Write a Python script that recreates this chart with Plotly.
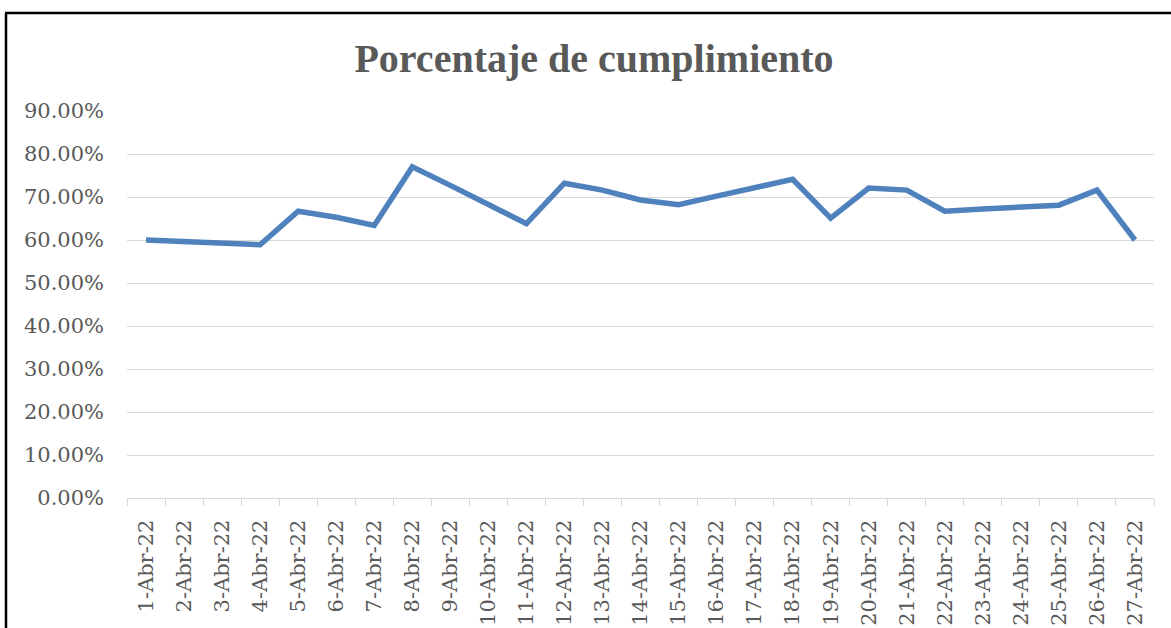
import plotly.graph_objects as go

dias = [f"{d}-Abr-22" for d in range(1, 28)]
cumplimiento = [0.600, 0.597, 0.593, 0.589, 0.667, 0.653, 0.634, 0.770, 0.727,
                0.684, 0.638, 0.732, 0.716, 0.693, 0.682, 0.702, 0.721, 0.741,
                0.651, 0.721, 0.716, 0.667, 0.672, 0.676, 0.681, 0.716, 0.600]
y_ticks = [0, 0.1, 0.2, 0.3, 0.4, 0.5, 0.6, 0.7, 0.8, 0.9]
titulo = "Porcentaje de cumplimiento"

TXT = "#595959"
fig = go.Figure()
fig.add_trace(go.Scatter(x=dias, y=cumplimiento, mode="lines",
                         line=dict(color="#4F81BD", width=5.5),
                         hoverinfo="x+y"))

L, R, T, B = 127, 17, 111, 130
W, H = 1171, 628
pw, ph = W - L - R, H - T - B

def px(x):
    return (x - L) / pw

def py(y):
    return (H - B - y) / ph

fig.update_layout(
    width=W, height=H,
    margin=dict(l=L, r=R, t=T, b=B, autoexpand=False),
    paper_bgcolor="white", plot_bgcolor="white",
    showlegend=False,
    title=dict(text=f"<b>{titulo}</b>", x=594 / W, xanchor="center",
               y=1 - 58 / H, yanchor="middle", xref="container", yref="container",
               font=dict(family="Liberation Serif", size=40, color=TXT)),
    xaxis=dict(type="category", showgrid=False, showline=True, linecolor="#D9D9D9",
               linewidth=1.3, ticks="outside", tickson="boundaries", ticklen=7,
               tickcolor="#D9D9D9", tickwidth=1.3, tickangle=-90,
               tickfont=dict(family="DejaVu Serif", size=21, color=TXT),
               range=[-0.5, len(dias) - 0.5], ticklabelstandoff=12),
    yaxis=dict(range=[0, 0.9], tickvals=y_ticks, tickformat=".2%",
               showgrid=True, gridcolor="#D9D9D9", gridwidth=1.3, zeroline=False,
               showline=False, ticks="",
               tickfont=dict(family="DejaVu Serif", size=21, color=TXT),
               ticklabelstandoff=22),
    shapes=[
        dict(type="line", xref="paper", yref="paper", x0=px(6), x1=px(6),
             y0=py(13), y1=py(700), line=dict(color="black", width=2.5)),
        dict(type="line", xref="paper", yref="paper", x0=px(5), x1=px(1200),
             y0=py(13), y1=py(13), line=dict(color="black", width=2.5)),
    ],
)

fig.write_html("out.html", config={"displayModeBar": False},
               post_script="document.body.style.margin='0px';")
